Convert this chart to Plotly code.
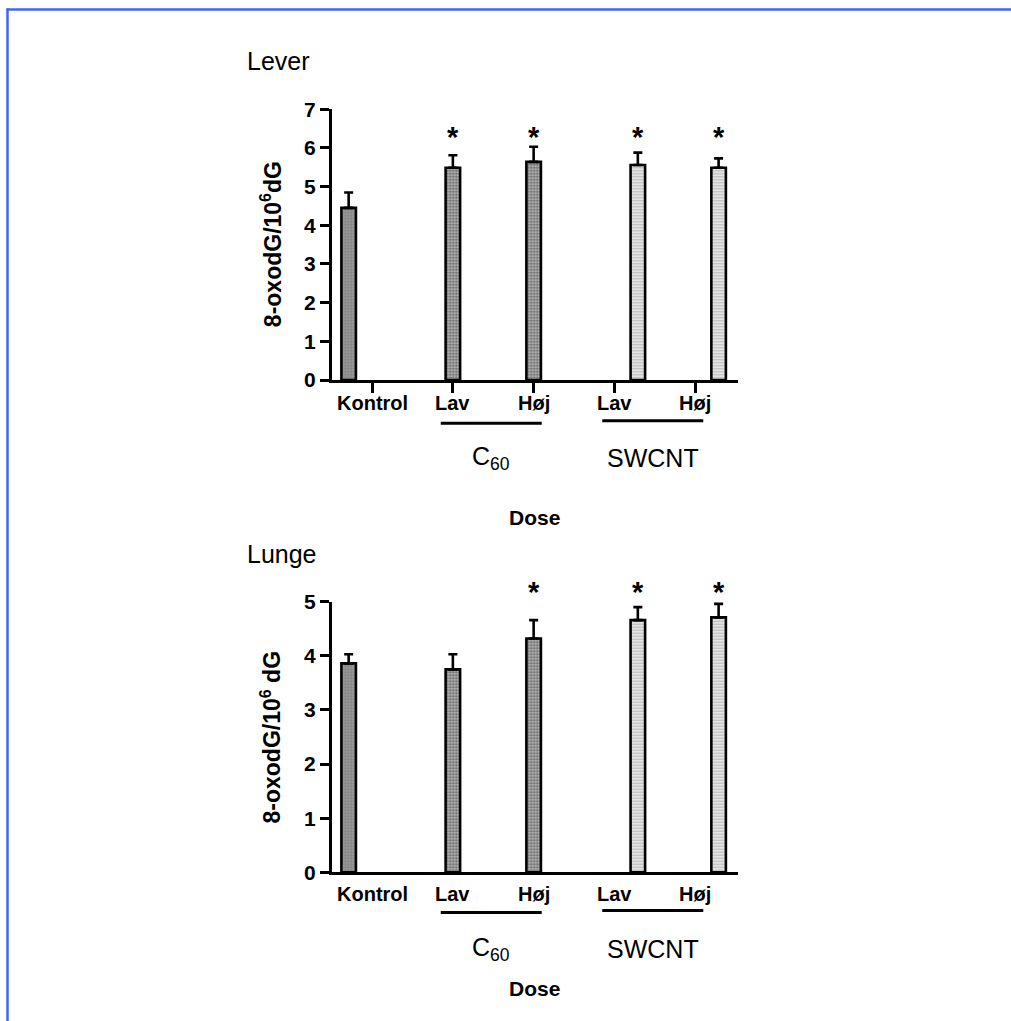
import plotly.graph_objects as go

# ---------------- data ----------------
categories = ["Kontrol", "Lav", "Høj", "Lav", "Høj"]
series_names = ["Kontrol", "C60", "SWCNT"]
series_of_category = [0, 1, 1, 2, 2]
group_labels = ["C<sub>60</sub>", "SWCNT"]
group_members = [[1, 2], [3, 4]]

lever_mean = [4.45, 5.49, 5.64, 5.56, 5.49]
lever_sem = [0.40, 0.32, 0.39, 0.32, 0.24]
lever_sig = [False, True, True, True, True]

lunge_mean = [3.86, 3.75, 4.32, 4.66, 4.71]
lunge_sem = [0.17, 0.28, 0.34, 0.24, 0.25]
lunge_sig = [False, False, True, True, True]

# ---------------- layout helpers ----------------
W, H = 1011, 1021
FONT = "Liberation Sans, Arial, sans-serif"


def fx(p):
    return p / W


def fy(p):
    return 1 - p / H


BARGAP = 0.13
BARGROUPGAP = 0.38
SLOT = (1 - BARGAP) / 3

patterns = [
    dict(shape=".", bgcolor="#9a9a9a", fgcolor="#5a5a5a", size=3, solidity=0.4),
    dict(shape=".", bgcolor="#cfcfcf", fgcolor="#000000", size=3, solidity=0.6),
    dict(shape="-", bgcolor="#ebebeb", fgcolor="#8a8a8a", size=3, solidity=0.45),
]

panels = [
    dict(mean=lever_mean, sem=lever_sem, sig=lever_sig, ymax=7, title="Lever",
         ytitle="8-oxodG/10<sup>6</sup>dG", axis_px=380.0, top_px=109.3,
         star_px=137.0, title_px=61.0, under_px=(423.3, 420.7),
         xlab_px=403.0, glabel_px=458.0, dose_px=517.5),
    dict(mean=lunge_mean, sem=lunge_sem, sig=lunge_sig, ymax=5, title="Lunge",
         ytitle="8-oxodG/10<sup>6</sup> dG", axis_px=872.3, top_px=601.7,
         star_px=592.0, title_px=554.0, under_px=(912.5, 910.5),
         xlab_px=894.0, glabel_px=949.0, dose_px=988.0),
]

X_LEFT_PX, X_RIGHT_PX = 331.7, 738.0
X_RANGE = [-0.5, 4.53]

fig = go.Figure()
annotations = []
shapes = []

for pi, p in enumerate(panels):
    xa = "x" if pi == 0 else "x2"
    ya = "y" if pi == 0 else "y2"
    for si in range(3):
        xs, ys, es, em = [], [], [], []
        for ci in range(len(categories)):
            xs.append(ci)
            if series_of_category[ci] == si:
                ys.append(p["mean"][ci])
                es.append(p["sem"][ci])
            else:
                ys.append(None)
                es.append(0)
            em.append(0)
        fig.add_trace(go.Bar(
            x=xs, y=ys, name=series_names[si], xaxis=xa, yaxis=ya,
            marker=dict(color=patterns[si]["bgcolor"], pattern=patterns[si],
                        line=dict(color="black", width=2.6)),
            error_y=dict(type="data", symmetric=False, array=es, arrayminus=em,
                         color="black", thickness=2.6, width=4.5),
            showlegend=False, hoverinfo="skip",
        ))
    # category labels
    for ci, c in enumerate(categories):
        annotations.append(dict(
            x=ci, xref=xa, y=fy(p["xlab_px"]), yref="paper", text=c,
            showarrow=False, xanchor="center", yanchor="middle",
            font=dict(family=FONT, size=20, color="black", weight="bold")))
    # significance stars
    for ci, s in enumerate(p["sig"]):
        if s:
            xpos = ci + (series_of_category[ci] - 1) * SLOT
            annotations.append(dict(
                x=xpos, xref=xa, y=fy(p["star_px"]), yref="paper", text="*",
                showarrow=False, xanchor="center", yanchor="middle",
                font=dict(family=FONT, size=29, color="black", weight="bold")))
    # panel title
    annotations.append(dict(
        x=fx(245.0), y=fy(p["title_px"]), xref="paper", yref="paper",
        text=p["title"], showarrow=False, xanchor="left", yanchor="middle",
        font=dict(family=FONT, size=25, color="black")))
    # y axis title
    annotations.append(dict(
        x=fx(270.5), y=fy((p["axis_px"] + p["top_px"]) / 2), xref="paper", yref="paper",
        text=p["ytitle"], textangle=-90, showarrow=False, xanchor="center",
        yanchor="middle",
        font=dict(family=FONT, size=23, color="black", weight="bold")))
    # x axis title
    annotations.append(dict(
        x=fx((X_LEFT_PX + X_RIGHT_PX) / 2), y=fy(p["dose_px"]), xref="paper",
        yref="paper", text="Dose", showarrow=False, xanchor="center",
        yanchor="middle",
        font=dict(family=FONT, size=21, color="black", weight="bold")))
    # group underlines and labels
    for gi, members in enumerate(group_members):
        x0 = members[0] - 0.15
        x1 = members[-1] + 0.10
        shapes.append(dict(type="line", xref=xa, yref="paper", x0=x0, x1=x1,
                           y0=fy(p["under_px"][gi]), y1=fy(p["under_px"][gi]),
                           line=dict(color="black", width=3)))
        annotations.append(dict(
            x=(x0 + x1) / 2, xref=xa, y=fy(p["glabel_px"]), yref="paper",
            text=group_labels[gi], showarrow=False, xanchor="center",
            yanchor="middle", font=dict(family=FONT, size=25, color="black")))

# blue frame
FRAME = "#3f66ee"
shapes.append(dict(type="line", xref="paper", yref="paper", x0=fx(6.5), x1=1.0,
                   y0=fy(9.5), y1=fy(9.5), line=dict(color=FRAME, width=2.5)))
shapes.append(dict(type="line", xref="paper", yref="paper", x0=fx(7.5), x1=fx(7.5),
                   y0=fy(8.5), y1=0.0, line=dict(color=FRAME, width=2.5)))

common_x = dict(range=X_RANGE, showgrid=False, zeroline=False, showline=True,
                linecolor="black", linewidth=2.6, tickmode="array",
                tickvals=list(range(len(categories))), showticklabels=False,
                automargin=False, fixedrange=True,
                domain=[fx(X_LEFT_PX), fx(X_RIGHT_PX)])
common_y = dict(showgrid=False, zeroline=False, showline=True, linecolor="black",
                linewidth=2.6, ticks="outside", ticklen=9, tickwidth=2.6,
                tickcolor="black", dtick=1,
                tickfont=dict(family=FONT, size=21, color="black", weight="bold"),
                automargin=False, fixedrange=True)

fig.update_layout(
    width=W, height=H,
    margin=dict(l=0, r=0, t=0, b=0),
    paper_bgcolor="white", plot_bgcolor="white",
    barmode="group", bargap=BARGAP, bargroupgap=BARGROUPGAP,
    xaxis=dict(common_x, anchor="y", ticks="outside", ticklen=10, tickwidth=2.6,
               tickcolor="black"),
    yaxis=dict(common_y, anchor="x", range=[0, panels[0]["ymax"]],
               domain=[fy(panels[0]["axis_px"]), fy(panels[0]["top_px"])]),
    xaxis2=dict(common_x, anchor="y2", ticks=""),
    yaxis2=dict(common_y, anchor="x2", range=[0, panels[1]["ymax"]],
                domain=[fy(panels[1]["axis_px"]), fy(panels[1]["top_px"])]),
    annotations=annotations,
    shapes=shapes,
    showlegend=False,
)

fig.write_html("out.html", config={"displayModeBar": False},
               post_script="document.body.style.margin='0';")
